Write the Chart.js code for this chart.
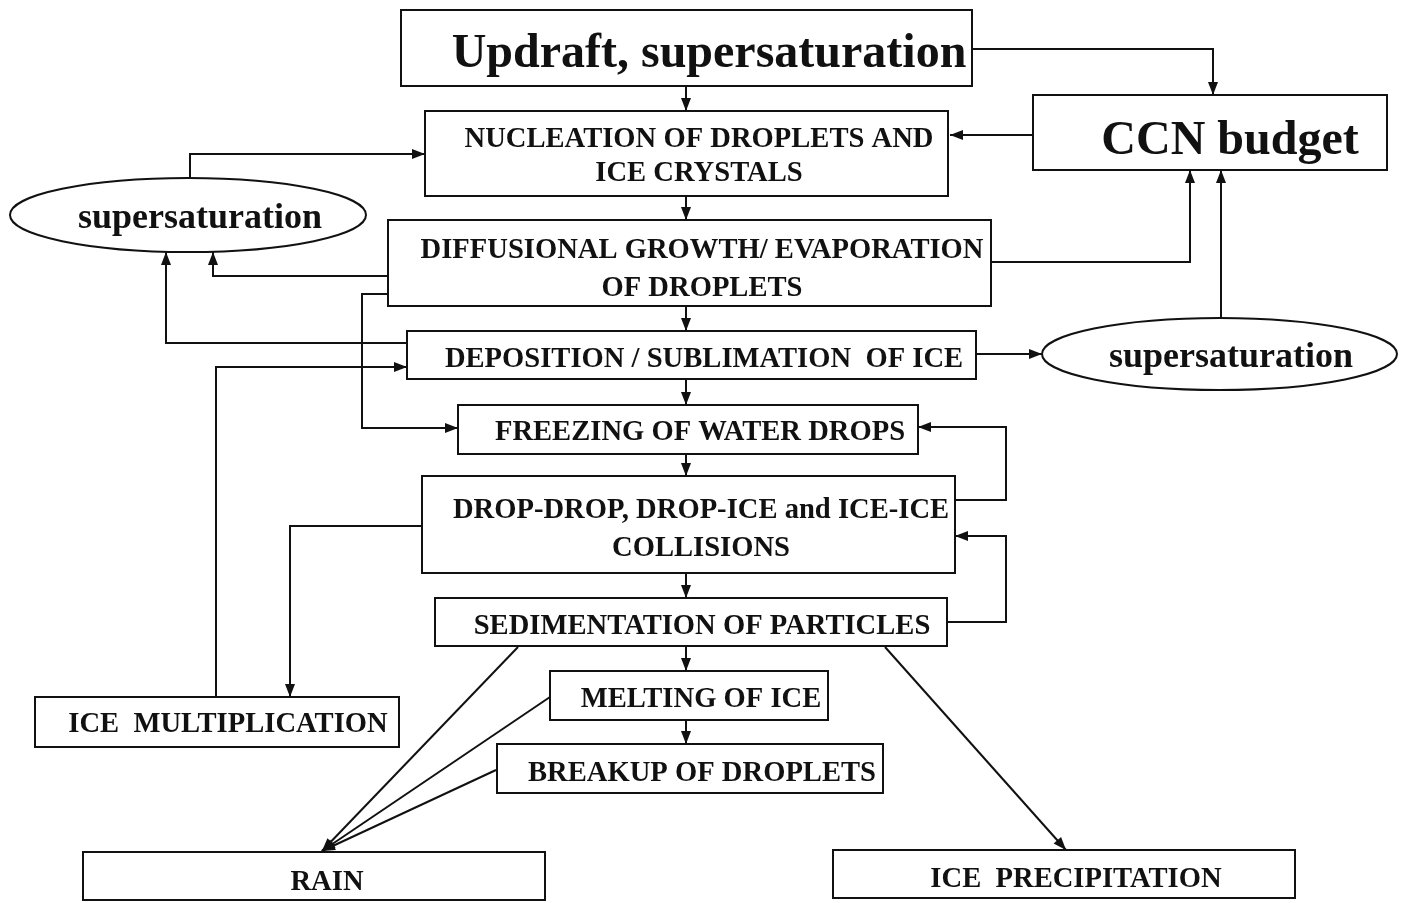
<!DOCTYPE html>
<html>
<head>
<meta charset="utf-8">
<script src="https://cdn.jsdelivr.net/npm/chart.js@4.4.1/dist/chart.umd.min.js"></script>
<style>
  html, body { margin: 0; background: #fff; }
  #wrap { width: 1406px; height: 903px; }
</style>
</head>
<body>
<div id="wrap"><canvas id="flow"></canvas></div>
<script>
// texts of the boxes, line by line
const boxTexts = [
  ['Updraft, supersaturation'],
  ['CCN budget'],
  ['NUCLEATION OF DROPLETS AND', 'ICE CRYSTALS'],
  ['supersaturation'],
  ['DIFFUSIONAL GROWTH/ EVAPORATION', 'OF DROPLETS'],
  ['DEPOSITION / SUBLIMATION  OF ICE'],
  ['supersaturation'],
  ['FREEZING OF WATER DROPS'],
  ['DROP-DROP, DROP-ICE and ICE-ICE', 'COLLISIONS'],
  ['SEDIMENTATION OF PARTICLES'],
  ['MELTING OF ICE'],
  ['ICE  MULTIPLICATION'],
  ['BREAKUP OF DROPLETS'],
  ['RAIN'],
  ['ICE  PRECIPITATION']
];
const boxShapes = ['rect', 'rect', 'rect', 'ellipse', 'rect', 'rect', 'ellipse',
  'rect', 'rect', 'rect', 'rect', 'rect', 'rect', 'rect', 'rect'];

// layout (diagram units = pixels of the picture)
const boxFrames = [
  [401, 10, 972, 86],
  [1033, 95, 1387, 170],
  [425, 111, 948, 196],
  [10, 178, 366, 252],
  [388, 220, 991, 306],
  [407, 331, 976, 379],
  [1042, 318, 1397, 390],
  [458, 405, 918, 454],
  [422, 476, 955, 573],
  [435, 598, 947, 646],
  [550, 671, 828, 720],
  [35, 697, 399, 747],
  [497, 744, 883, 793],
  [83, 852, 545, 900],
  [833, 850, 1295, 898]
];
const textX = [709, 1230, 699, 200, 702, 704, 1231, 700, 701, 702, 701, 228, 702, 327, 1076];
const textY = [[50], [137], [137, 171], [215], [248, 286], [357], [354], [430], [508, 546],
  [624], [697], [722], [771], [880], [877]];
const fontSizes = [48, 48, 28.6, 36, 28.6, 28.6, 36, 28.6, 28.6, 28.6, 28.6, 28.6, 28.6, 28.6, 28.6];

// connectors, last point is the arrow tip
const links = [
  [[686, 86], [686, 111]],
  [[972, 49], [1213, 49], [1213, 95]],
  [[1033, 135], [950, 135]],
  [[190, 179], [190, 154], [425, 154]],
  [[686, 196], [686, 220]],
  [[388, 276], [213, 276], [213, 252]],
  [[991, 262], [1190, 262], [1190, 170]],
  [[1221, 318], [1221, 170]],
  [[686, 306], [686, 331]],
  [[388, 294], [362, 294], [362, 428], [458, 428]],
  [[407, 343], [166, 343], [166, 252]],
  [[976, 354], [1042, 354]],
  [[686, 379], [686, 405]],
  [[216, 697], [216, 367], [407, 367]],
  [[686, 454], [686, 476]],
  [[955, 500], [1006, 500], [1006, 427], [918, 427]],
  [[422, 526], [290, 526], [290, 697]],
  [[947, 622], [1006, 622], [1006, 536], [955, 536]],
  [[686, 573], [686, 598]],
  [[686, 646], [686, 671]],
  [[686, 720], [686, 744]],
  [[518, 647], [322, 851]],
  [[550, 697], [322, 851]],
  [[496, 770], [322, 851]],
  [[885, 647], [1066, 850]]
];

const INK = '#111';
const FONT = '"Liberation Serif", "Times New Roman", serif';

const diagramPlugin = {
  id: 'diagram',
  beforeDraw(chart) {
    const c = chart.ctx;
    c.save();
    c.fillStyle = '#fff';
    c.fillRect(0, 0, chart.width, chart.height);
    c.restore();
  },
  beforeDatasetsDraw(chart) {
    const c = chart.ctx, xs = chart.scales.x, ys = chart.scales.y;
    c.save();
    c.strokeStyle = INK;
    c.lineWidth = 2;
    boxFrames.forEach((f, i) => {
      const x0 = xs.getPixelForValue(f[0]), x1 = xs.getPixelForValue(f[2]);
      const y0 = ys.getPixelForValue(f[1]), y1 = ys.getPixelForValue(f[3]);
      c.beginPath();
      if (boxShapes[i] === 'ellipse') {
        c.ellipse((x0 + x1) / 2, (y0 + y1) / 2, (x1 - x0) / 2, (y1 - y0) / 2, 0, 0, Math.PI * 2);
      } else {
        c.rect(x0, y0, x1 - x0, y1 - y0);
      }
      c.stroke();
    });
    c.restore();
  },
  afterDatasetsDraw(chart) {
    const c = chart.ctx, xs = chart.scales.x, ys = chart.scales.y;
    c.save();
    c.fillStyle = INK;
    // arrow heads
    links.forEach(pts => {
      const a = pts[pts.length - 2], b = pts[pts.length - 1];
      const ax = xs.getPixelForValue(a[0]), ay = ys.getPixelForValue(a[1]);
      const bx = xs.getPixelForValue(b[0]), by = ys.getPixelForValue(b[1]);
      const ang = Math.atan2(by - ay, bx - ax);
      const len = 13, half = 5;
      c.beginPath();
      c.moveTo(bx, by);
      c.lineTo(bx - len * Math.cos(ang) + half * Math.sin(ang), by - len * Math.sin(ang) - half * Math.cos(ang));
      c.lineTo(bx - len * Math.cos(ang) - half * Math.sin(ang), by - len * Math.sin(ang) + half * Math.cos(ang));
      c.closePath();
      c.fill();
    });
    // labels (caps sit a bit high with 'middle', nudge them down)
    c.textAlign = 'center';
    c.textBaseline = 'middle';
    boxTexts.forEach((lines, i) => {
      const fs = fontSizes[i];
      c.font = 'bold ' + fs + 'px ' + FONT;
      lines.forEach((t, k) => {
        c.fillText(t, xs.getPixelForValue(textX[i]), ys.getPixelForValue(textY[i][k]) + fs * 0.09);
      });
    });
    c.restore();
  }
};

new Chart(document.getElementById('flow'), {
  type: 'scatter',
  data: {
    datasets: links.map(pts => ({
      data: pts.map(p => ({ x: p[0], y: p[1] })),
      showLine: true,
      borderColor: INK,
      borderWidth: 2,
      pointRadius: 0,
      tension: 0,
      fill: false
    }))
  },
  options: {
    responsive: true,
    maintainAspectRatio: false,
    animation: false,
    layout: { padding: 0 },
    scales: {
      x: { type: 'linear', min: 0, max: 1406, display: false },
      y: { type: 'linear', min: 0, max: 903, reverse: true, display: false }
    },
    plugins: {
      legend: { display: false },
      tooltip: { enabled: false }
    }
  },
  plugins: [diagramPlugin]
});
</script>
</body>
</html>
